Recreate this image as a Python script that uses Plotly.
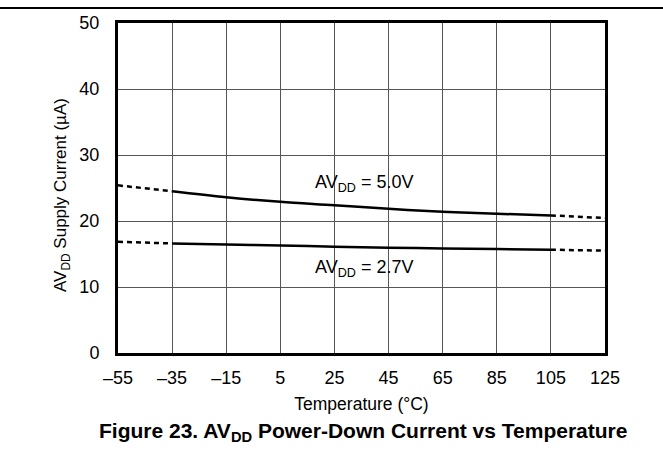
import plotly.graph_objects as go

# Data
temp_solid = [-35, -15, 5, 25, 45, 65, 85, 105]
i50_solid = [24.5, 23.6, 22.9, 22.4, 21.85, 21.4, 21.1, 20.85]
i27_solid = [16.6, 16.45, 16.3, 16.1, 15.95, 15.85, 15.75, 15.65]

temp_lo = [-55, -35]
i50_lo = [25.4, 24.5]
i27_lo = [16.85, 16.6]

temp_hi = [105, 125]
i50_hi = [20.85, 20.45]
i27_hi = [15.65, 15.5]

x_ticks = [-55, -35, -15, 5, 25, 45, 65, 85, 105, 125]
x_ticktext = ["\u201355", "\u201335", "\u201315", "5", "25", "45", "65", "85", "105", "125"]
y_ticks = [0, 10, 20, 30, 40, 50]

fig = go.Figure()
for xs, ys in [(temp_solid, i50_solid), (temp_solid, i27_solid)]:
    fig.add_trace(go.Scatter(x=xs, y=ys, mode="lines", line=dict(color="black", width=2.5, shape="spline"),
                             showlegend=False, hoverinfo="skip"))
for xs, ys in [(temp_lo, i50_lo), (temp_lo, i27_lo), (temp_hi, i50_hi), (temp_hi, i27_hi)]:
    fig.add_trace(go.Scatter(x=xs, y=ys, mode="lines", line=dict(color="black", width=2.5, dash="5px,4px"),
                             showlegend=False, hoverinfo="skip"))

font = "Liberation Sans, Arial, sans-serif"
fig.add_annotation(x=36, y=25.7, text="AV<sub>DD</sub> = 5.0V", showarrow=False,
                   font=dict(family=font, size=18, color="black"))
fig.add_annotation(x=36, y=12.75, text="AV<sub>DD</sub> = 2.7V", showarrow=False,
                   font=dict(family=font, size=18, color="black"))

# y-axis title (placed as annotation for exact position)
fig.add_annotation(xref="paper", yref="paper", x=(62-118)/487, y=(353-195)/330,
                   text="AV<sub>DD</sub> Supply Current (\u00b5A)", textangle=-90,
                   showarrow=False, xanchor="center", yanchor="middle",
                   font=dict(family=font, size=17, color="black"))

# top rule
fig.add_shape(type="line", xref="paper", yref="paper", x0=-118/487, x1=545/487,
              y0=(353-8)/330, y1=(353-8)/330, line=dict(color="black", width=2))

# caption
fig.add_annotation(xref="paper", yref="paper", x=(363-118)/487, y=-(432-353)/330,
                   text="<b>Figure 23. AV<sub>DD</sub> Power-Down Current vs Temperature</b>",
                   showarrow=False, yanchor="middle", xanchor="center",
                   font=dict(family=font, size=21, color="black"))

fig.update_layout(
    width=663, height=452,
    margin=dict(l=118, r=58, t=23, b=99),
    paper_bgcolor="white", plot_bgcolor="white",
    font=dict(family=font, size=18, color="black"),
)
fig.update_xaxes(range=[-55, 125], tickvals=x_ticks, ticktext=x_ticktext,
                 showgrid=True, gridcolor="#555555", gridwidth=1,
                 showline=True, linecolor="black", linewidth=3, mirror=True,
                 ticks="", zeroline=False, ticklabelstandoff=6,
                 title=dict(text="Temperature (\u00b0C)", font=dict(size=17.5), standoff=12))
fig.update_yaxes(range=[0, 50], tickvals=y_ticks,
                 showgrid=True, gridcolor="#555555", gridwidth=1,
                 showline=True, linecolor="black", linewidth=3, mirror=True,
                 ticks="", zeroline=False, ticklabelstandoff=12)

fig.write_html("out.html", config={"displayModeBar": False},
               post_script="document.body.style.margin='0';document.body.style.overflow='hidden';")
